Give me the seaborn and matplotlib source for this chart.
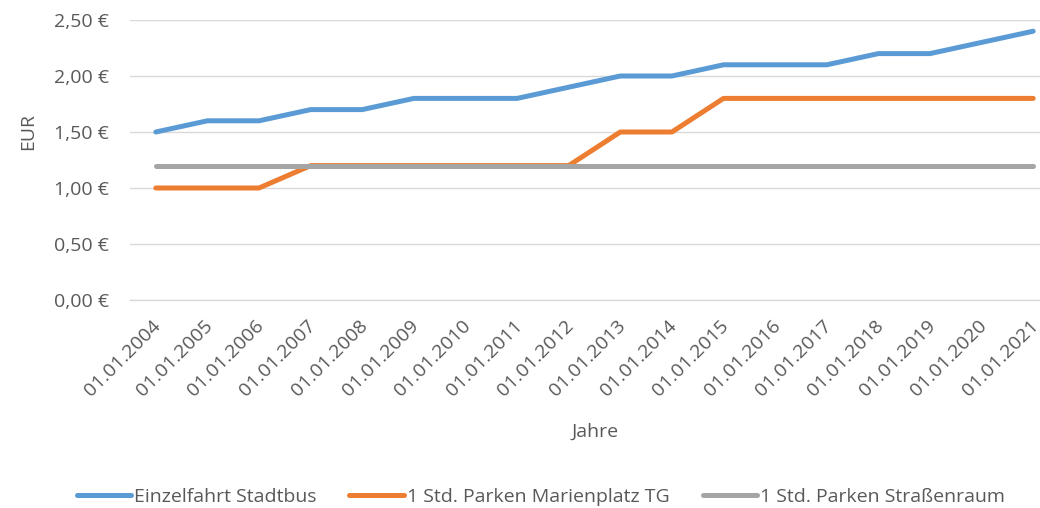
import pandas as pd
import numpy as np
import matplotlib
matplotlib.use('Agg')
import matplotlib.pyplot as plt
import matplotlib.transforms as mtransforms
import seaborn as sns

# Values
jahre = ['01.01.2004', '01.01.2005', '01.01.2006', '01.01.2007', '01.01.2008', '01.01.2009',
         '01.01.2010', '01.01.2011', '01.01.2012', '01.01.2013', '01.01.2014', '01.01.2015',
         '01.01.2016', '01.01.2017', '01.01.2018', '01.01.2019', '01.01.2020', '01.01.2021']
stadtbus = [1.50, 1.60, 1.60, 1.70, 1.70, 1.80, 1.80, 1.80, 1.90, 2.00, 2.00, 2.10,
            2.10, 2.10, 2.20, 2.20, 2.30, 2.40]
marienplatz = [1.00, 1.00, 1.00, 1.20, 1.20, 1.20, 1.20, 1.20, 1.20, 1.50, 1.50, 1.80,
               1.80, 1.80, 1.80, 1.80, 1.80, 1.80]
strassenraum = [1.20] * 18

serien = ['Einzelfahrt Stadtbus', '1 Std. Parken Marienplatz TG', '1 Std. Parken Straßenraum']
farben = ['#5B9BD5', '#ED7D31', '#A5A5A5']

df = pd.concat([
    pd.DataFrame({'Jahr': jahre, 'EUR': stadtbus, 'Serie': serien[0]}),
    pd.DataFrame({'Jahr': jahre, 'EUR': marienplatz, 'Serie': serien[1]}),
    pd.DataFrame({'Jahr': jahre, 'EUR': strassenraum, 'Serie': serien[2]}),
])
df['x'] = df['Jahr'].map({j: i for i, j in enumerate(jahre)})

sns.set_style('white')
plt.rcParams['font.family'] = ['Open Sans', 'DejaVu Sans']
textfarbe = '#595959'

fig = plt.figure(figsize=(10.4, 5.08), dpi=100)
ax = fig.add_axes([130 / 1040, 1 - 300 / 508, (1059 - 130) / 1040, 280 / 508])

sns.lineplot(data=df, x='x', y='EUR', hue='Serie', hue_order=serien, palette=farben,
             linewidth=3.6, ax=ax, legend=False, solid_capstyle='round')

ax.set_xlim(-0.5, len(jahre) - 0.5)
ax.set_ylim(0, 2.5)
ax.set_yticks(np.arange(0, 2.51, 0.5))
ax.set_yticklabels([f'{v:.2f} €'.replace('.', ',') for v in np.arange(0, 2.51, 0.5)],
                   color=textfarbe, fontsize=14)
ax.set_xticks(range(len(jahre)))
ax.set_xticklabels(jahre, rotation=45, ha='right', rotation_mode='anchor',
                   color=textfarbe, fontsize=14)
ax.set_xticks(np.arange(-0.5, len(jahre), 1), minor=True)
ax.tick_params(axis='x', which='major', length=0, pad=12)
ax.tick_params(axis='x', which='minor', length=5, color='#D9D9D9', width=1)
ax.tick_params(axis='y', length=0, pad=15)

# shift the slanted year labels a touch to the left
verschiebung = mtransforms.ScaledTranslation(-4 / 100, 0, fig.dpi_scale_trans)
for lbl in ax.get_xticklabels():
    lbl.set_transform(lbl.get_transform() + verschiebung)

ax.grid(axis='y', color='#D9D9D9', linewidth=1)
ax.set_axisbelow(True)
for s in ['top', 'right', 'left']:
    ax.spines[s].set_visible(False)
ax.spines['bottom'].set_color('#D9D9D9')
ax.spines['bottom'].set_linewidth(1)

ax.set_xlabel('Jahre', color=textfarbe, fontsize=14)
ax.set_ylabel('EUR', color=textfarbe, fontsize=14)
ax.xaxis.set_label_coords((595 - 130) / (1059 - 130), -(432 - 300) / 280)
ax.yaxis.set_label_coords(-(130 - 28) / (1059 - 130), 0.6)
ax.xaxis.label.set_va('center')
ax.yaxis.label.set_va('center')

handles = [plt.Line2D([0], [0], color=c, linewidth=3.6, solid_capstyle='round') for c in farben]
fig.legend(handles, serien, loc='center', bbox_to_anchor=(0.52, 1 - 497 / 508), ncol=3,
           frameon=False, fontsize=14, labelcolor=textfarbe, handlelength=2.8,
           handletextpad=0.15, columnspacing=1.7)

fig.savefig('out.png', dpi=100)
